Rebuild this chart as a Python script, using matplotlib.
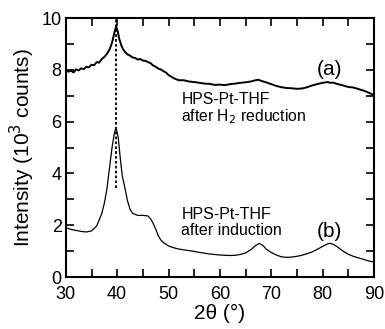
import matplotlib
matplotlib.use('Agg')
import matplotlib.pyplot as plt
from matplotlib.ticker import MultipleLocator

plt.rcParams['font.family'] = ['Liberation Sans', 'DejaVu Sans']

# curve (a): HPS-Pt-THF after H2 reduction
theta_a = [30, 30.5, 31, 31.5, 32, 32.5, 33, 33.5, 34, 34.5, 35, 35.5, 36, 36.5,
           37, 37.5, 38, 38.5, 39, 39.3, 39.6, 39.8, 40.1, 40.4, 40.8, 41.2, 41.6,
           42, 42.5, 43, 43.5, 44, 44.5, 45, 45.5, 46, 46.5, 47, 47.5, 48, 48.5,
           49, 49.5, 50, 50.5, 51, 51.5, 52, 53, 54, 55, 56, 57, 58, 59, 60, 61,
           62, 63, 64, 65, 66, 67, 67.5, 68, 69, 70, 71, 72, 73, 74, 75, 76, 77,
           78, 79, 80, 81, 81.5, 82, 83, 84, 85, 86, 87, 88, 89, 90]
int_a = [7.98, 7.93, 7.97, 7.9, 8.02, 7.98, 8.06, 8.03, 8.12, 8.1, 8.2, 8.18, 8.3,
         8.28, 8.42, 8.5, 8.62, 8.78, 9.05, 9.3, 9.55, 9.68, 9.5, 9.2, 8.95, 8.78,
         8.68, 8.6, 8.55, 8.48, 8.46, 8.4, 8.42, 8.36, 8.35, 8.3, 8.26, 8.17, 8.12,
         8.05, 8.02, 7.95, 7.9, 7.8, 7.74, 7.68, 7.64, 7.6, 7.6, 7.55, 7.53, 7.5,
         7.47, 7.46, 7.42, 7.43, 7.41, 7.45, 7.47, 7.5, 7.52, 7.55, 7.6, 7.62,
         7.58, 7.52, 7.45, 7.38, 7.33, 7.3, 7.29, 7.27, 7.28, 7.33, 7.4, 7.45,
         7.5, 7.53, 7.5, 7.51, 7.45, 7.4, 7.34, 7.32, 7.26, 7.2, 7.12, 7.03]

# curve (b): HPS-Pt-THF after induction
theta_b = [30, 31, 32, 33, 34, 35, 36, 37, 37.5, 38, 38.5, 39, 39.5, 39.8, 40.2,
           40.6, 41, 41.5, 42, 42.5, 43, 44, 45, 46, 46.5, 47, 47.5, 48, 48.5,
           49, 50, 51, 52, 53, 54, 55, 56, 57, 58, 59, 60, 61, 62, 63, 64, 65,
           66, 67, 67.7, 68.5, 69, 70, 71, 72, 73, 74, 75, 76, 77, 78, 79, 80,
           81, 81.5, 82, 83, 84, 85, 86, 87, 88, 89, 90]
int_b = [1.9, 1.84, 1.8, 1.76, 1.74, 1.78, 1.97, 2.45, 2.85, 3.4, 4.2, 5.0, 5.6,
         5.75, 5.4, 4.6, 3.9, 3.45, 2.95, 2.62, 2.46, 2.38, 2.38, 2.36, 2.25,
         2.08, 1.85, 1.6, 1.43, 1.33, 1.2, 1.13, 1.08, 1.05, 1.02, 0.99, 0.95,
         0.92, 0.89, 0.87, 0.85, 0.84, 0.83, 0.84, 0.87, 0.93, 1.05, 1.22, 1.3,
         1.2, 1.08, 0.95, 0.85, 0.78, 0.76, 0.77, 0.8, 0.84, 0.9, 0.97, 1.07,
         1.18, 1.28, 1.3, 1.27, 1.15, 1.0, 0.88, 0.8, 0.74, 0.68, 0.62, 0.58]

peak_pos = 39.8

fig = plt.figure(figsize=(3.85, 3.29), dpi=100)
ax = fig.add_axes([0.171, 0.158, 0.8, 0.787])

ax.plot(theta_a, int_a, color='black', lw=1.4)
ax.plot(theta_b, int_b, color='black', lw=0.9)
ax.plot([peak_pos, peak_pos], [3.45, 10], color='black', lw=1.3, ls=(0, (1.5, 1.2)))

ax.text(81.3, 8.0, '(a)', fontsize=15, ha='center', va='center')
ax.text(81.3, 1.75, '(b)', fontsize=15, ha='center', va='center')
ax.text(52.5, 7.15, 'HPS-Pt-THF\nafter H$_2$ reduction', fontsize=11.3,
        ha='left', va='top', linespacing=1.05)
ax.text(52.5, 2.7, 'HPS-Pt-THF\nafter induction', fontsize=11.5,
        ha='left', va='top', linespacing=1.05)

ax.set_xlim(30, 90)
ax.set_ylim(0, 10)
ax.xaxis.set_major_locator(MultipleLocator(10))
ax.xaxis.set_minor_locator(MultipleLocator(5))
ax.yaxis.set_major_locator(MultipleLocator(2))
ax.yaxis.set_minor_locator(MultipleLocator(1))
ax.tick_params(which='both', direction='in', top=True, right=True,
               width=1.2, labelsize=13, length=6)
ax.tick_params(axis='x', pad=6.5)
ax.tick_params(axis='y', pad=3)
for s in ax.spines.values():
    s.set_linewidth(1.5)

ax.set_xlabel('2θ (°)', fontsize=15, labelpad=1)
ax.set_ylabel('Intensity (10$^3$ counts)', fontsize=15, labelpad=3)

fig.savefig('out.png', dpi=100)
